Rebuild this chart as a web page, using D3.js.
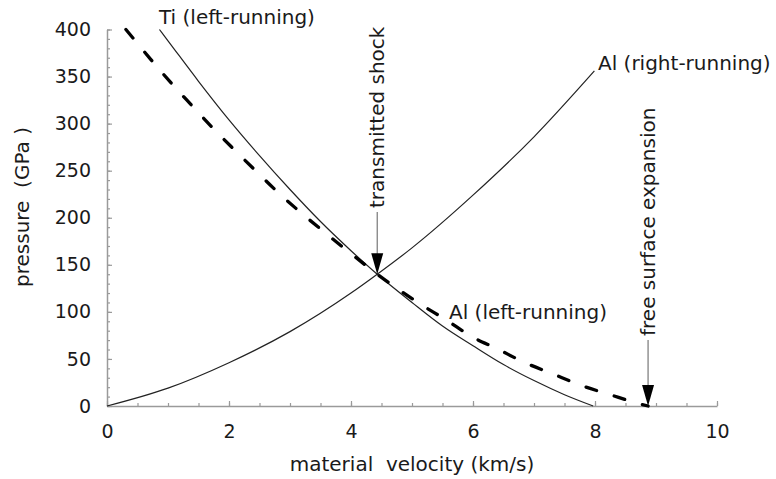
<!DOCTYPE html>
<html>
<head>
<meta charset="utf-8">
<script src="https://cdn.jsdelivr.net/npm/d3@7"></script>
<style>
  body { margin: 0; background: #fff; }
  text { font-family: "DejaVu Sans", sans-serif; fill: #1a1a1a; }
</style>
</head>
<body>
<div id="chart"></div>
<script>
// material velocity (km/s) and pressure (GPa)
var alRightU = [0, 1, 2, 3, 4, 4.43, 5, 6, 7, 7.99];
var alRightP = [0, 19, 46, 79, 120, 140, 168, 224, 286, 356];

var tiLeftU = [0.86, 1, 1.5, 2, 2.5, 3, 3.5, 4, 4.43, 5, 5.5, 6, 6.5, 7, 7.5, 7.97];
var tiLeftP = [400, 388, 345, 304, 266, 230, 196, 165, 140, 110, 85, 64, 44, 27, 12, 0];

var alLeftU = [0.31, 0.72, 1.04, 1.38, 1.71, 2.06, 2.42, 2.77, 3.15, 3.52, 3.9, 4.27, 4.43, 5.12, 5.57, 6.0, 6.39, 6.82, 7.31, 7.77, 8.25, 8.69, 8.87];
var alLeftP = [400, 368, 344, 320, 297, 274, 251, 229, 207, 187, 167, 148, 140, 109, 91, 73, 61, 47, 34, 22, 12, 3, 0];

var xTicks = [0, 2, 4, 6, 8, 10];
var yTicks = [0, 50, 100, 150, 200, 250, 300, 350, 400];

// arrow targets: transmitted shock state and free surface velocity
var shockPoint = [4.43, 140];
var freeSurfacePoint = [8.87, 0];

var margin = {top: 29.5, right: 59, bottom: 73, left: 107},
    width = 776 - margin.left - margin.right,
    height = 479 - margin.top - margin.bottom;

var svg = d3.select("#chart")
    .append("svg")
    .attr("width", 776)
    .attr("height", 479);

var g = svg.append("g").attr("transform", "translate(" + margin.left + "," + margin.top + ")");

var x = d3.scaleLinear().domain([0, 10]).range([0, width]);
var y = d3.scaleLinear().domain([0, 400]).range([height, 0]);

var axisColor = "#9a9a9a";

// minor ticks
var xMinor = d3.range(0, 10.01, 0.5);
var yMinor = d3.range(0, 400.1, 10);

g.append("g")
    .attr("transform", "translate(0," + height + ")")
    .call(d3.axisBottom(x).tickValues(xMinor).tickSize(-3).tickSizeOuter(0).tickFormat(""))
    .call(function (a) { a.select(".domain").remove(); });

g.append("g")
    .call(d3.axisLeft(y).tickValues(yMinor).tickSize(-3).tickSizeOuter(0).tickFormat(""))
    .call(function (a) { a.select(".domain").remove(); });

// major axes
g.append("g")
    .attr("transform", "translate(0," + height + ")")
    .call(d3.axisBottom(x).tickValues(xTicks).tickSize(-5).tickSizeOuter(0).tickPadding(18.5));

g.append("g")
    .call(d3.axisLeft(y).tickValues(yTicks).tickSize(-5).tickSizeOuter(0).tickPadding(16));

g.selectAll(".tick line").attr("stroke", axisColor).attr("stroke-width", 1.2);
g.selectAll(".domain").attr("stroke", axisColor).attr("stroke-width", 1.5);
g.selectAll(".tick text").style("font-family", "DejaVu Sans").style("font-size", "19px").attr("fill", "#1a1a1a");

var line = d3.line()
    .x(function (d) { return x(d[0]); })
    .y(function (d) { return y(d[1]); })
    .curve(d3.curveMonotoneX);

function zip(us, ps) {
    return us.map(function (u, i) { return [u, ps[i]]; });
}

g.append("path")
    .datum(zip(alRightU, alRightP))
    .attr("d", line)
    .attr("fill", "none")
    .attr("stroke", "#222")
    .attr("stroke-width", 1.2);

g.append("path")
    .datum(zip(tiLeftU, tiLeftP))
    .attr("d", line)
    .attr("fill", "none")
    .attr("stroke", "#222")
    .attr("stroke-width", 1.2);

g.append("path")
    .datum(zip(alLeftU, alLeftP))
    .attr("d", line)
    .attr("fill", "none")
    .attr("stroke", "#000")
    .attr("stroke-width", 3.3)
    .attr("stroke-linecap", "round")
    .attr("stroke-dasharray", "11,18.5");

// arrows with vertical labels
function arrow(pt, top, label) {
    var ax = x(pt[0]), ay = y(pt[1]);
    g.append("line")
        .attr("x1", ax).attr("x2", ax)
        .attr("y1", top).attr("y2", ay - 18)
        .attr("stroke", "#777").attr("stroke-width", 1.2);
    g.append("path")
        .attr("d", "M" + (ax - 6) + "," + (ay - 21) + "L" + (ax + 6) + "," + (ay - 21) + "L" + ax + "," + ay + "Z")
        .attr("fill", "#000");
    g.append("text")
        .attr("transform", "translate(" + (ax + 7) + "," + (top - 4) + ") rotate(-90)")
        .style("font-size", "20px")
        .text(label);
}

arrow(shockPoint, 212 - margin.top, "transmitted shock");
arrow(freeSurfacePoint, 340 - margin.top, "free surface expansion");

// curve labels
g.append("text")
    .attr("x", 159 - margin.left).attr("y", 24 - margin.top)
    .style("font-size", "20px")
    .text("Ti (left-running)");

g.append("text")
    .attr("x", 598 - margin.left).attr("y", 70 - margin.top)
    .style("font-size", "20px")
    .text("Al (right-running)");

g.append("text")
    .attr("x", 449 - margin.left).attr("y", 319 - margin.top)
    .style("font-size", "20px")
    .text("Al (left-running)");

// axis titles
g.append("text")
    .attr("x", width / 2).attr("y", 471 - margin.top)
    .attr("text-anchor", "middle")
    .style("font-size", "20px")
    .style("white-space", "pre")
    .text("material  velocity (km/s)");

g.append("text")
    .attr("transform", "translate(" + (29 - margin.left) + "," + (207 - margin.top) + ") rotate(-90)")
    .attr("text-anchor", "middle")
    .style("font-size", "20px")
    .style("white-space", "pre")
    .text("pressure  (GPa )");
</script>
</body>
</html>
